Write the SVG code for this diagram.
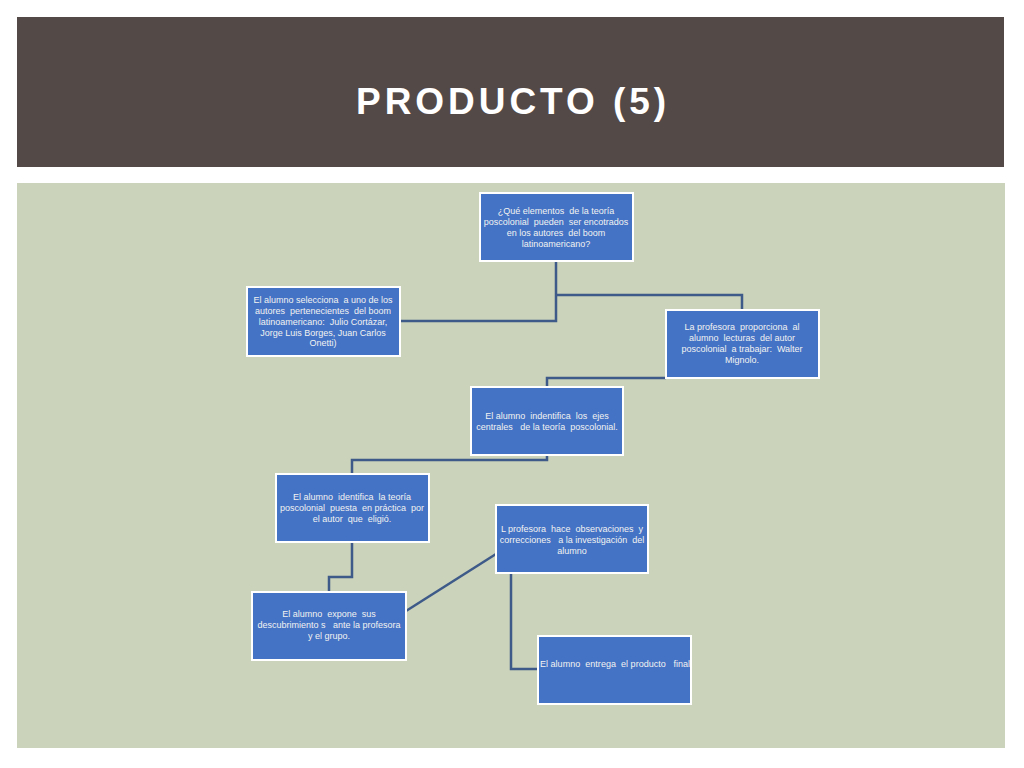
<svg xmlns="http://www.w3.org/2000/svg" width="1024" height="768" viewBox="0 0 1024 768">
<style>
.box{fill:#4472c4;stroke:#ffffff;stroke-width:2}
.t{font-family:"Liberation Sans",Arial,sans-serif;font-size:9px;fill:#f2f2f2;text-anchor:middle;white-space:pre}
.c{fill:none;stroke:#3d5a88;stroke-width:2.5}
</style>
<rect x="0" y="0" width="1024" height="768" fill="#ffffff"/>
<rect x="17" y="17" width="987" height="150" fill="#534a47"/>
<rect x="17" y="183" width="988" height="565" fill="#cbd3bb"/>
<text x="511" y="114" font-family="'Liberation Sans',Arial,sans-serif" font-size="37" font-weight="bold" fill="#ffffff" text-anchor="middle" textLength="310" lengthAdjust="spacing">PRODUCTO (5)</text>

<g id="connectors">
<polyline class="c" points="556,261 556,321 400,321"/>
<polyline class="c" points="556,295 742,295 742,310"/>
<polyline class="c" points="666,378 547,378 547,387"/>
<polyline class="c" points="547,455 547,460 352,460 352,474"/>
<polyline class="c" points="352,542 352,577 329,577 329,592"/>
<line class="c" x1="406" y1="611" x2="496" y2="554"/>
<polyline class="c" points="511,573 511,669 538,669"/>
</g>

<g id="n1">
<rect class="box" x="480" y="193" width="153" height="68"/>
<text class="t" x="556" y="214">¿Qué elementos  de la teoría</text>
<text class="t" x="556" y="225">poscolonial  pueden  ser encotrados</text>
<text class="t" x="556" y="236">en los autores  del boom</text>
<text class="t" x="556" y="247">latinoamericano?</text>
</g>
<g id="n2">
<rect class="box" x="247" y="287" width="153" height="69"/>
<text class="t" x="323" y="303">El alumno selecciona  a uno de los</text>
<text class="t" x="323" y="314">autores  pertenecientes  del boom</text>
<text class="t" x="323" y="325">latinoamericano:  Julio Cortázar,</text>
<text class="t" x="323" y="336">Jorge Luis Borges, Juan Carlos</text>
<text class="t" x="323" y="346">Onetti)</text>
</g>
<g id="n3">
<rect class="box" x="666" y="310" width="153" height="68"/>
<text class="t" x="742" y="330">La profesora  proporciona  al</text>
<text class="t" x="742" y="341">alumno  lecturas  del autor</text>
<text class="t" x="742" y="352">poscolonial  a trabajar:  Walter</text>
<text class="t" x="742" y="363">Mignolo.</text>
</g>
<g id="n4">
<rect class="box" x="471" y="387" width="152" height="68"/>
<text class="t" x="547" y="419">El alumno  indentifica  los  ejes</text>
<text class="t" x="547" y="430">centrales   de la teoría  poscolonial.</text>
</g>
<g id="n5">
<rect class="box" x="276" y="474" width="153" height="68"/>
<text class="t" x="352" y="500">El alumno  identifica  la teoría</text>
<text class="t" x="352" y="511">poscolonial  puesta  en práctica  por</text>
<text class="t" x="352" y="522">el autor  que  eligió.</text>
</g>
<g id="n6">
<rect class="box" x="496" y="505" width="152" height="68"/>
<text class="t" x="572" y="532">L profesora  hace  observaciones  y</text>
<text class="t" x="572" y="543">correcciones   a la investigación  del</text>
<text class="t" x="572" y="554">alumno</text>
</g>
<g id="n7">
<rect class="box" x="252" y="592" width="154" height="68"/>
<text class="t" x="329" y="617">El alumno  expone  sus</text>
<text class="t" x="329" y="628">descubrimiento s   ante la profesora</text>
<text class="t" x="329" y="639">y el grupo.</text>
</g>
<g id="n8">
<rect class="box" x="538" y="636" width="153" height="68"/>
<text class="t" x="540" y="667" style="text-anchor:start" textLength="150" lengthAdjust="spacing">El alumno  entrega  el producto   final</text>
</g>
</svg>
